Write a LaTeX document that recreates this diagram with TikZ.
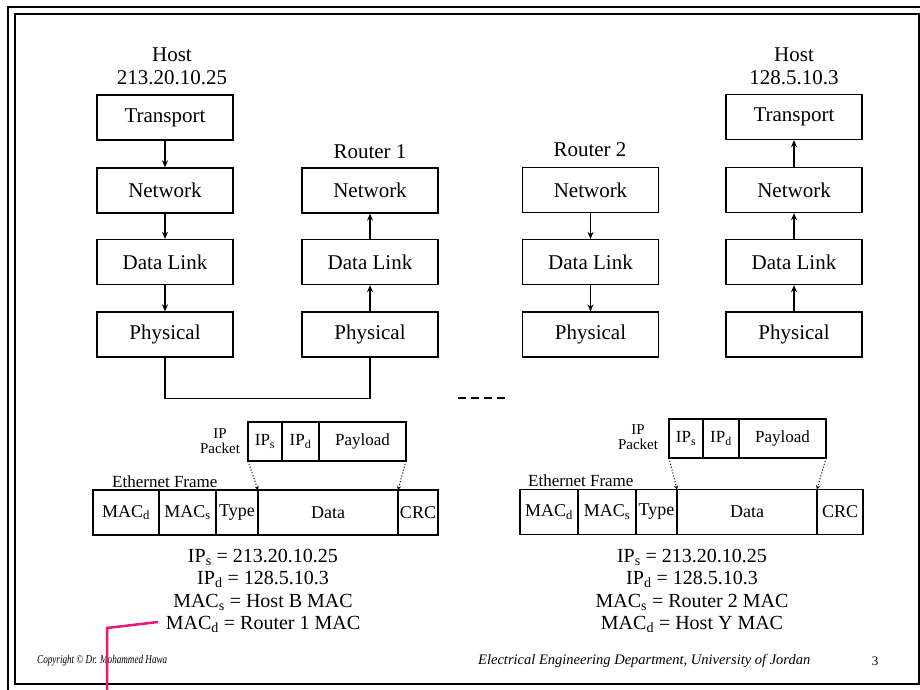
\documentclass[tikz,border=0pt]{standalone}
\usepackage{fontspec}
\setmainfont{Liberation Serif}
\usetikzlibrary{arrows.meta,positioning}
\definecolor{penpink}{RGB}{232,24,120}
\tikzset{
  layer/.style={draw, line width=1.3pt, minimum width=136pt, minimum height=45pt, inner sep=0pt, font=\fontsize{21}{24}\selectfont},
  flow/.style={-{Stealth[length=7pt,width=6pt]}, line width=1.2pt},
  hdr/.style={font=\fontsize{21}{23}\selectfont, inner sep=0pt, align=center},
  cell/.style={draw, line width=1.3pt, minimum height=45pt, inner sep=0pt, outer sep=0pt, font=\fontsize{18}{20}\selectfont},
  pcell/.style={draw, line width=1.3pt, minimum height=39pt, inner sep=0pt, outer sep=0pt, font=\fontsize{17}{19}\selectfont},
  small/.style={font=\fontsize{17}{18}\selectfont, inner sep=0pt, align=center},
  pklbl/.style={font=\fontsize{15}{17}\selectfont, inner sep=0pt, align=center},
  ptr/.style={dotted, line width=1pt, -{Stealth[length=4pt,width=4pt]}},
  eqs/.style={font=\fontsize{20}{22.5}\selectfont, inner sep=0pt, align=center},
  wire/.style={line width=1.3pt},
}
\begin{document}
\begin{tikzpicture}[x=1pt,y=-1pt]
\useasboundingbox (0,0) rectangle (920,690);
% slide frame
\draw[line width=2.2pt] (8,7) rectangle (930,700);
\draw[line width=1.5pt] (15,14) rectangle (919,684);

% headers
\node[hdr] (h1name) at (172,55) {Host};
\node[hdr] (h1ip) at (172,78) {213.20.10.25};
\node[hdr] (h2name) at (794,55) {Host};
\node[hdr] (h2ip) at (794,78) {128.5.10.3};
\node[hdr] (r1name) at (370,152) {Router 1};
\node[hdr] (r2name) at (590,150) {Router 2};

% Host 1
\node[layer] (h1t) at (165,117.5) {Transport};
\node[layer] (h1n) at (165,190.5) {Network};
\node[layer] (h1d) at (165,262) {Data Link};
\node[layer] (h1p) at (165,334.5) {Physical};
% Router 1
\node[layer] (r1n) at (370,190.5) {Network};
\node[layer] (r1d) at (370,262) {Data Link};
\node[layer] (r1p) at (370,334.5) {Physical};
% Router 2
\node[layer] (r2n) at (590.5,190) {Network};
\node[layer] (r2d) at (590.5,262) {Data Link};
\node[layer] (r2p) at (590.5,334.5) {Physical};
% Host 2
\node[layer] (h2t) at (794,117) {Transport};
\node[layer] (h2n) at (794,190) {Network};
\node[layer] (h2d) at (794,262) {Data Link};
\node[layer] (h2p) at (794,334.5) {Physical};

\draw[flow] (h1t) -- (h1n);
\draw[flow] (h1n) -- (h1d);
\draw[flow] (h1d) -- (h1p);
\draw[flow] (r1p) -- (r1d);
\draw[flow] (r1d) -- (r1n);
\draw[flow] (r2n) -- (r2d);
\draw[flow] (r2d) -- (r2p);
\draw[flow] (h2p) -- (h2d);
\draw[flow] (h2d) -- (h2n);
\draw[flow] (h2n) -- (h2t);

\draw[wire] (h1p.south) -- ++(0,41) -| (r1p.south);
\coordinate (dashA) at (458,398);
\coordinate (dashB) at (505,398);
\draw[line width=1.5pt, dash pattern=on 8pt off 5pt] (dashA) -- (dashB);

% Left frame
\node[cell, minimum width=66pt, anchor=west] (macd1) at (93,512.5) {MAC\textsubscript{d}};
\node[cell, minimum width=57pt, anchor=west] (macs1) at (macd1.east) {MAC\textsubscript{s}};
\node[cell, minimum width=42pt, anchor=west] (type1) at (macs1.east) {Type};
\node[cell, minimum width=140pt, anchor=west] (data1) at (type1.east) {Data};
\node[cell, minimum width=40pt, anchor=west] (crc1) at (data1.east) {CRC};
\node[small, anchor=west] (eth1) at (112,482) {Ethernet Frame};
\node[pcell, minimum width=34pt, anchor=west] (ips1) at (248,441.5) {IP\textsubscript{s}};
\node[pcell, minimum width=37pt, anchor=west] (ipd1) at (ips1.east) {IP\textsubscript{d}};
\node[pcell, minimum width=87pt, anchor=west] (pay1) at (ipd1.east) {Payload};
\node[pklbl] (ipl1) at (220,441) {IP\\[-2pt]Packet};
\draw[ptr] (ips1.south west) -- (data1.north west);
\draw[ptr] (pay1.south east) -- (data1.north east);

% Right frame
\node[cell, minimum width=58pt, anchor=west] (macd2) at (520,512) {MAC\textsubscript{d}};
\node[cell, minimum width=58pt, anchor=west] (macs2) at (macd2.east) {MAC\textsubscript{s}};
\node[cell, minimum width=41pt, anchor=west] (type2) at (macs2.east) {Type};
\node[cell, minimum width=140pt, anchor=west] (data2) at (type2.east) {Data};
\node[cell, minimum width=46pt, anchor=west] (crc2) at (data2.east) {CRC};
\node[small, anchor=west] (eth2) at (528,481) {Ethernet Frame};
\node[pcell, minimum width=34pt, anchor=west] (ips2) at (669,438.5) {IP\textsubscript{s}};
\node[pcell, minimum width=36pt, anchor=west] (ipd2) at (ips2.east) {IP\textsubscript{d}};
\node[pcell, minimum width=87pt, anchor=west] (pay2) at (ipd2.east) {Payload};
\node[pklbl] (ipl2) at (638,437) {IP\\[-2pt]Packet};
\draw[ptr] (ips2.south west) -- (data2.north west);
\draw[ptr] (pay2.south east) -- (data2.north east);

% Address lists
\node[eqs] (addr1) at (263,591) {IP\textsubscript{s} = 213.20.10.25\\IP\textsubscript{d} = 128.5.10.3\\MAC\textsubscript{s} = Host B MAC\\MAC\textsubscript{d} = Router 1 MAC};
\node[eqs] (addr2) at (692,591) {IP\textsubscript{s} = 213.20.10.25\\IP\textsubscript{d} = 128.5.10.3\\MAC\textsubscript{s} = Router 2 MAC\\MAC\textsubscript{d} = Host Y MAC};

% Footer
\node[font=\fontsize{12}{13}\selectfont\itshape, anchor=west, inner sep=0pt] (copy) at (37,661) {\scalebox{0.76}[1]{Copyright \textcopyright{} Dr. Mohammed Hawa}};
\node[font=\fontsize{14.5}{16}\selectfont\itshape, anchor=west, inner sep=0pt] (dept) at (478,661) {Electrical Engineering Department, University of Jordan};
\node[font=\fontsize{13}{15}\selectfont, inner sep=0pt] (page) at (875,661) {3};

% pen mark
\coordinate (penA) at (107,695);
\coordinate (penB) at (107,628);
\coordinate (penC) at (158,622);
\draw[penpink, line width=2.5pt] (penA) -- (penB) -- (penC);
\end{tikzpicture}
\end{document}
